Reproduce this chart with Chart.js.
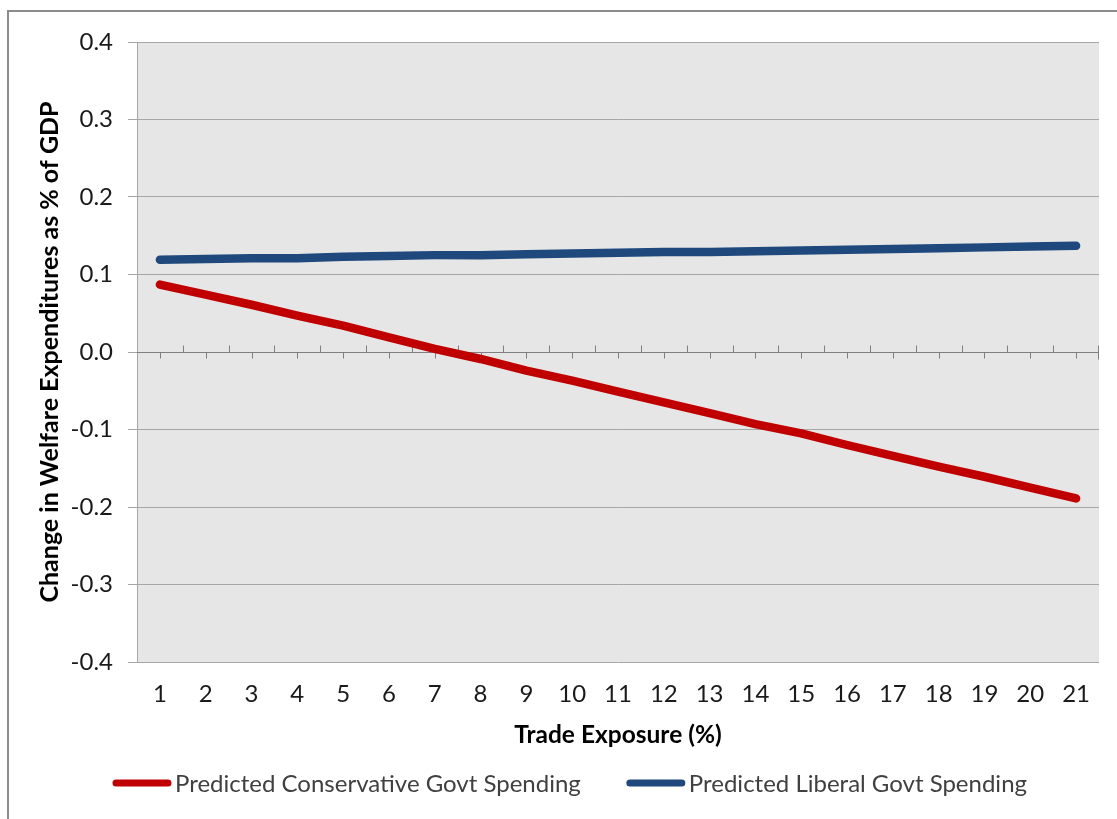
<!DOCTYPE html>
<html>
<head>
<meta charset="utf-8">
<script src="https://cdn.jsdelivr.net/npm/chart.js@4"></script>
<style>
  html, body { margin: 0; padding: 0; background: #ffffff; overflow: hidden; }
  #wrap { position: absolute; left: 0; top: 0; width: 1117px; height: 819px; }
</style>
</head>
<body>
<div id="wrap"><canvas id="c" width="1117" height="819"></canvas></div>
<script>
// Trade exposure categories (%)
const tradeExposure = [1, 2, 3, 4, 5, 6, 7, 8, 9, 10, 11, 12, 13, 14, 15, 16, 17, 18, 19, 20, 21];

// Predicted change in welfare expenditures (% of GDP)
const conservativeSpending = [0.087, 0.074, 0.061, 0.047, 0.034, 0.019, 0.004, -0.009, -0.024, -0.037, -0.051,
  -0.065, -0.079, -0.093, -0.105, -0.120, -0.134, -0.148, -0.161, -0.175, -0.189];
const liberalSpending = [0.119, 0.120, 0.121, 0.121, 0.123, 0.124, 0.125, 0.125, 0.126, 0.127, 0.128,
  0.129, 0.129, 0.130, 0.131, 0.132, 0.133, 0.134, 0.135, 0.136, 0.137];

const seriesNames = ['Predicted Conservative Govt Spending', 'Predicted Liberal Govt Spending'];
const seriesColors = ['#C00000', '#1F497D'];

const yTicks = [-0.4, -0.3, -0.2, -0.1, 0.0, 0.1, 0.2, 0.3, 0.4];

const FONT = 'Lato, "Open Sans", sans-serif';

// Chart frame and plot background
const framePlugin = {
  id: 'frame',
  beforeDraw(chart) {
    const { ctx, chartArea: a } = chart;
    ctx.save();
    ctx.fillStyle = '#ffffff';
    ctx.fillRect(0, 0, chart.width, chart.height);
    ctx.strokeStyle = '#8c8c8c';
    ctx.lineWidth = 2;
    ctx.beginPath();
    ctx.moveTo(8, chart.height);
    ctx.lineTo(8, 11);
    ctx.lineTo(chart.width, 11);
    ctx.stroke();
    ctx.fillStyle = '#e6e6e6';
    ctx.fillRect(a.left, a.top, a.right - a.left, a.bottom - a.top);
    ctx.restore();
  }
};

// Category axis drawn across the zero line, with tick marks
const zeroAxisPlugin = {
  id: 'zeroAxis',
  beforeDatasetsDraw(chart) {
    const { ctx, chartArea: a, scales: { x, y } } = chart;
    const y0 = Math.round(y.getPixelForValue(0)) + 0.5;
    ctx.save();
    ctx.strokeStyle = '#7f7f7f';
    ctx.lineWidth = 1;
    ctx.beginPath();
    ctx.moveTo(a.left, y0);
    ctx.lineTo(a.right, y0);
    const n = tradeExposure.length;
    for (let i = 0; i < n; i++) {
      const px = Math.round(x.getPixelForValue(i)) + 0.5;
      ctx.moveTo(px, y0);
      ctx.lineTo(px, y0 + 6);
      if (i < n - 1) {
        const bx = Math.round((x.getPixelForValue(i) + x.getPixelForValue(i + 1)) / 2) + 0.5;
        ctx.moveTo(bx, y0 - 7);
        ctx.lineTo(bx, y0);
      }
    }
    const rx = Math.round(a.right) - 0.5;
    ctx.moveTo(rx, y0 - 7);
    ctx.lineTo(rx, y0 + 7);
    ctx.stroke();
    ctx.restore();
  }
};

// Legend row under the axis title
const legendPlugin = {
  id: 'lineLegend',
  afterDraw(chart) {
    const { ctx } = chart;
    const sw = 58, gapText = 4, gapItem = 46, cy = 783, centerX = 570;
    ctx.save();
    ctx.font = '24px ' + FONT;
    ctx.textBaseline = 'middle';
    const items = chart.data.datasets.map(d => ({ label: d.label, color: d.borderColor, w: sw + gapText + ctx.measureText(d.label).width }));
    const total = items.reduce((s, it) => s + it.w, 0) + gapItem * (items.length - 1);
    let x = centerX - total / 2;
    items.forEach(it => {
      ctx.strokeStyle = it.color;
      ctx.lineWidth = 7;
      ctx.lineCap = 'round';
      ctx.beginPath();
      ctx.moveTo(x + 3, cy);
      ctx.lineTo(x + sw - 3, cy);
      ctx.stroke();
      ctx.fillStyle = '#404040';
      ctx.fillText(it.label, x + sw + gapText, cy + 1);
      x += it.w + gapItem;
    });
    ctx.restore();
  }
};

new Chart(document.getElementById('c'), {
  type: 'line',
  data: {
    labels: tradeExposure,
    datasets: [
      { label: seriesNames[0], data: conservativeSpending, borderColor: seriesColors[0], backgroundColor: seriesColors[0],
        borderWidth: 8.5, borderCapStyle: 'round', borderJoinStyle: 'round', pointRadius: 0, tension: 0 },
      { label: seriesNames[1], data: liberalSpending, borderColor: seriesColors[1], backgroundColor: seriesColors[1],
        borderWidth: 8.5, borderCapStyle: 'round', borderJoinStyle: 'round', pointRadius: 0, tension: 0 }
    ]
  },
  options: {
    responsive: false,
    animation: false,
    devicePixelRatio: 1,
    layout: { padding: { left: 0, top: 42, right: 18, bottom: 0 } },
    plugins: {
      legend: { display: false },
      tooltip: { enabled: false }
    },
    scales: {
      x: {
        type: 'category',
        offset: true,
        grid: { display: false, drawTicks: false },
        border: { display: false },
        ticks: { color: '#1a1a1a', font: { family: FONT, size: 24 }, padding: 18, maxRotation: 0, autoSkip: false },
        title: { display: true, text: 'Trade Exposure (%)', color: '#000000',
          font: { family: FONT, size: 24.5, weight: 'bold' }, padding: { top: 0, bottom: 69 } },
        afterFit(scale) { scale.height = 157; }
      },
      y: {
        min: -0.4,
        max: 0.4,
        afterBuildTicks(scale) { scale.ticks = yTicks.map(v => ({ value: v })); },
        grid: { color: '#a6a6a6', lineWidth: 1, tickLength: 9, drawTicks: true },
        border: { display: true, color: '#a6a6a6', width: 1 },
        ticks: { color: '#1a1a1a', font: { family: FONT, size: 24 }, padding: 15,
          callback: v => Number(v).toFixed(1) },
        title: { display: true, text: 'Change in Welfare Expenditures as % of GDP', color: '#000000',
          font: { family: FONT, size: 25, weight: 'bold' }, padding: { top: 35, bottom: 0 } },
        afterFit(scale) { scale.width = 137; }
      }
    }
  },
  plugins: [framePlugin, zeroAxisPlugin, legendPlugin]
});
</script>
</body>
</html>
